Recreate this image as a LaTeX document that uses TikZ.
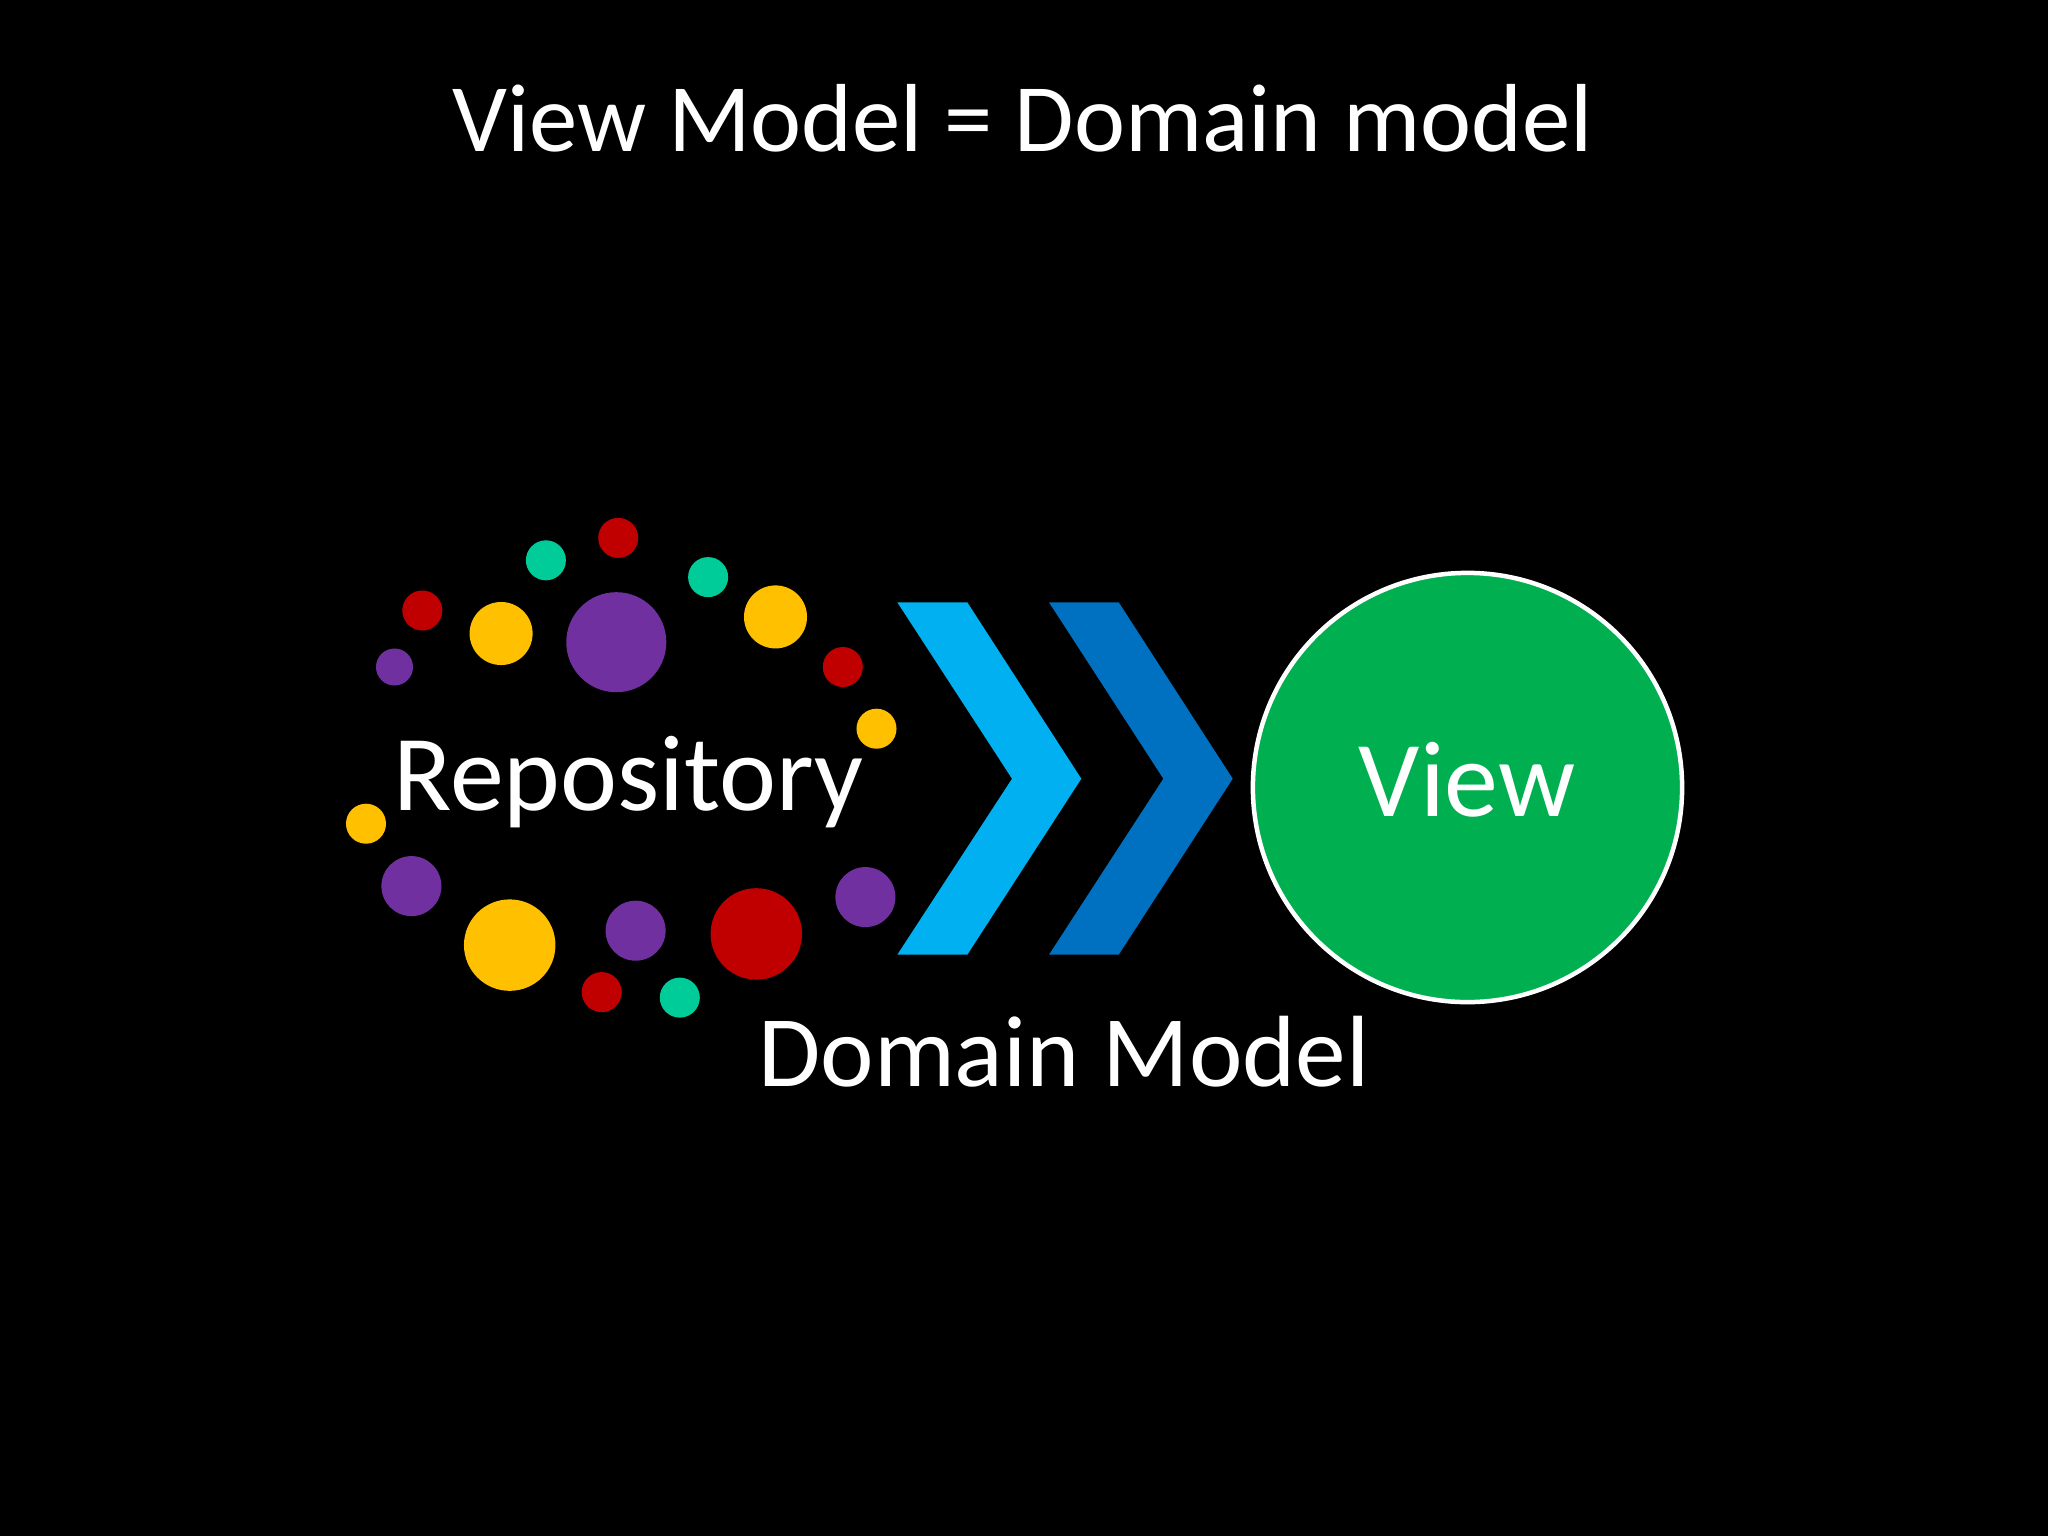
\documentclass[tikz,border=0pt]{standalone}
\usepackage{fontspec}
\setmainfont{Carlito}
\definecolor{cred}{HTML}{C00000}
\definecolor{cteal}{HTML}{00CC99}
\definecolor{cyellow}{HTML}{FFC000}
\definecolor{cpurple}{HTML}{7030A0}
\definecolor{clblue}{HTML}{00B0F0}
\definecolor{cdblue}{HTML}{0070C0}
\definecolor{cgreen}{HTML}{00B050}
\begin{document}
\begin{tikzpicture}[x=0.01cm,y=-0.01cm,
  dot/.style={circle,inner sep=0pt,outer sep=0pt,draw=none,minimum size=#1},
  lbl/.style={text=white,inner sep=0pt,anchor=base,font=\fontsize{30.7pt}{36pt}\selectfont},
  dml/.style={text=white,inner sep=0pt,anchor=base,font=\fontsize{28.8pt}{34pt}\selectfont},
  ttl/.style={text=white,inner sep=0pt,anchor=base,font=\fontsize{27.5pt}{33pt}\selectfont},
  viewc/.style={circle,fill=cgreen,draw=white,line width=0.045cm,inner sep=0pt,minimum size=4.29cm}]
\fill[black] (0,0) rectangle (2048,1536);
\useasboundingbox (0,0) rectangle (2048,1536);
% title
\node[ttl] (title) at (1022.8,151.5) {View Model = Domain model};
% dots
\node[dot=0.40cm,fill=cred] (d1) at (618.2,537.9) {};
\node[dot=0.40cm,fill=cteal] (d2) at (545.9,560.3) {};
\node[dot=0.40cm,fill=cteal] (d3) at (708.1,577.1) {};
\node[dot=0.40cm,fill=cred] (d4) at (422.3,610.5) {};
\node[dot=0.63cm,fill=cyellow] (d5) at (501.1,633.5) {};
\node[dot=1.00cm,fill=cpurple] (d6) at (616.3,642.2) {};
\node[dot=0.63cm,fill=cyellow] (d7) at (775.5,616.9) {};
\node[dot=0.40cm,fill=cred] (d8) at (842.8,667) {};
\node[dot=0.37cm,fill=cpurple] (d9) at (394.5,667) {};
\node[dot=0.40cm,fill=cyellow] (d10) at (876.5,728.7) {};
\node[dot=0.40cm,fill=cyellow] (d11) at (366,823.7) {};
\node[dot=0.60cm,fill=cpurple] (d12) at (411.4,886.1) {};
\node[dot=0.914cm,fill=cyellow] (d13) at (509.7,945.1) {};
\node[dot=0.60cm,fill=cpurple] (d14) at (635.6,930.7) {};
\node[dot=0.914cm,fill=cred] (d15) at (756.3,933.9) {};
\node[dot=0.60cm,fill=cpurple] (d16) at (865.4,897.1) {};
\node[dot=0.40cm,fill=cred] (d17) at (601.7,992.1) {};
\node[dot=0.40cm,fill=cteal] (d18) at (679.8,997.6) {};
% chevrons
\fill[clblue] (897.3,602.3) -- (967.3,602.3) -- (1081.3,778.7) -- (967.3,954.7) -- (897.3,954.7) -- (1012,778.7) -- cycle;
\fill[cdblue] (1049,602.3) -- (1118.7,602.3) -- (1232.7,778.7) -- (1118.7,954.7) -- (1049,954.7) -- (1163.3,778.7) -- cycle;
% view circle
\node[viewc] (view) at (1467.5,787.5) {};
\node[lbl] (viewt) at (1467,816.7) {View};
% labels
\node[lbl] (repo) at (628.3,810) {Repository};
\node[dml] (dm) at (1064,1086.7) {Domain Model};
\end{tikzpicture}
\end{document}
